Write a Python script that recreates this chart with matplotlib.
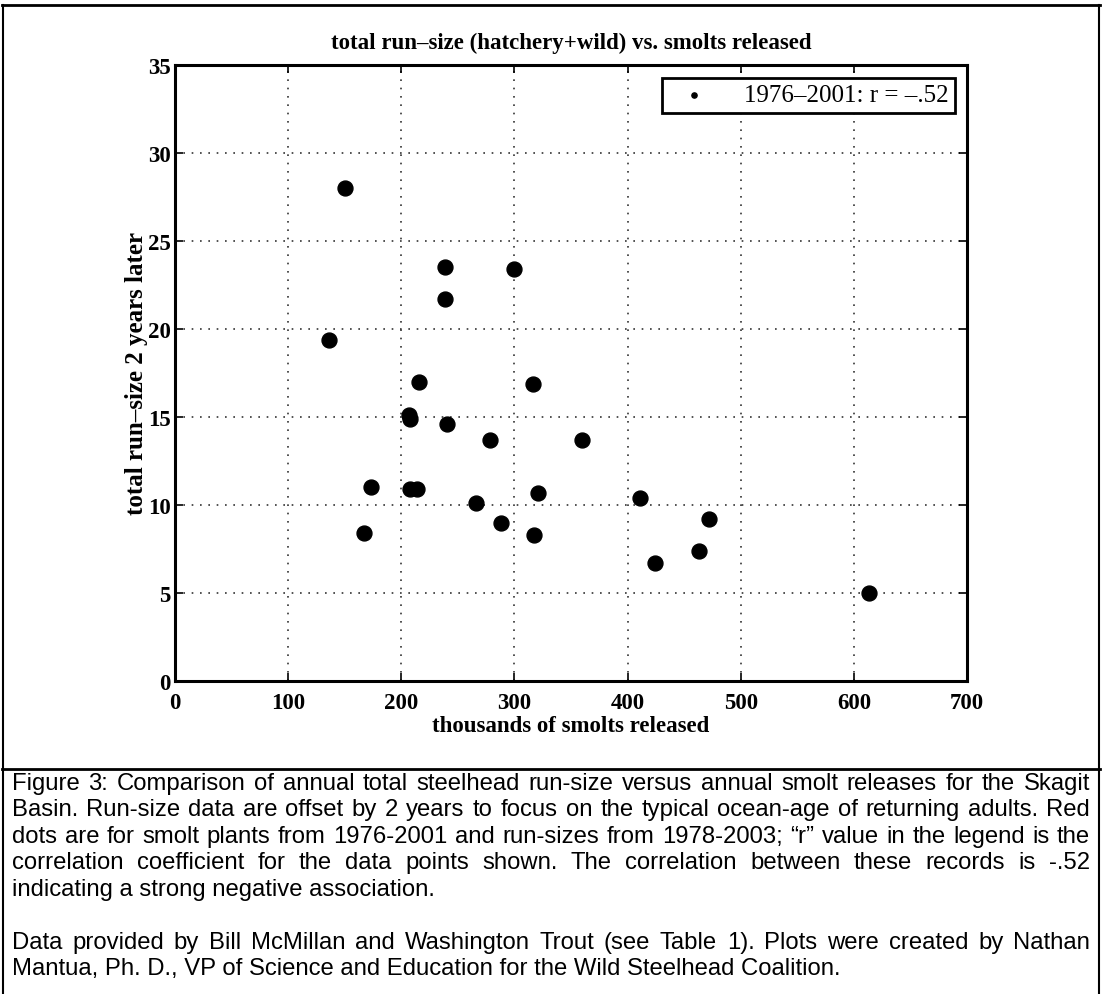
import matplotlib
matplotlib.use('Agg')

import numpy as np
import matplotlib.pyplot as plt
from matplotlib.lines import Line2D

# smolts released (thousands) vs total run-size 2 years later (thousands)
smolts = [150, 136, 239, 239, 300, 216, 316, 207, 208, 240, 278, 360,
          173, 208, 214, 321, 266, 288, 167, 317, 411, 472, 463, 424, 613]
run_size = [28.0, 19.4, 23.5, 21.7, 23.4, 17.0, 16.9, 15.1, 14.9, 14.6, 13.7, 13.7,
            11.0, 10.9, 10.9, 10.7, 10.1, 9.0, 8.4, 8.3, 10.4, 9.2, 7.4, 6.7, 5.0]

x_ticks = [0, 100, 200, 300, 400, 500, 600, 700]
y_ticks = [0, 5, 10, 15, 20, 25, 30, 35]

title = 'total run\u2013size (hatchery+wild) vs. smolts released'
x_label = 'thousands of smolts released'
y_label = 'total run\u2013size 2 years later'
legend_label = '1976\u20132001: r = \u2013.52'

caption_lines = [
    ('Figure 3: Comparison of annual total steelhead run-size versus annual smolt releases for the Skagit', True),
    ('Basin. Run-size data are offset by 2 years to focus on the typical ocean-age of returning adults. Red', True),
    ('dots are for smolt plants from 1976-2001 and run-sizes from 1978-2003; \u201cr\u201d value in the legend is the', True),
    ('correlation coefficient for the data points shown. The correlation between these records is -.52', True),
    ('indicating a strong negative association.', False),
    ('', False),
    ('Data provided by Bill McMillan and Washington Trout (see Table 1). Plots were created by Nathan', True),
    ('Mantua, Ph. D., VP of Science and Education for the Wild Steelhead Coalition.', False),
]

W, H = 1102, 995
fig = plt.figure(figsize=(W / 100, H / 100), dpi=100)
serif = 'Liberation Serif'
sans = 'Liberation Sans'

ax = fig.add_axes([175 / W, 1 - 682 / H, (967 - 175) / W, (682 - 66) / H])
ax.scatter(smolts, run_size, s=115, color='black', zorder=3, label=legend_label)
ax.set_xlim(0, 700)
ax.set_ylim(0, 35)
ax.set_xticks(x_ticks)
ax.set_yticks(y_ticks)
ax.grid(True, linestyle=(0, (1, 4)), color='#333333', linewidth=1.2)
ax.tick_params(direction='in', length=6, width=1.2, top=True, right=True,
               labelsize=16.5, pad=3)
ax.tick_params(axis='x', pad=8)
for lab in ax.get_xticklabels() + ax.get_yticklabels():
    lab.set_fontfamily(serif)
    lab.set_fontweight('bold')
for sp in ax.spines.values():
    sp.set_linewidth(2.2)

ax.set_title(title, fontsize=16.5, fontfamily=serif, fontweight='bold', pad=12)
ax.set_xlabel(x_label, fontsize=16.5, fontfamily=serif, fontweight='bold', labelpad=1)
ax.set_ylabel(y_label, fontsize=18, fontfamily=serif, fontweight='bold', labelpad=0)

leg = ax.legend(loc='upper right', frameon=True, fancybox=False, markerscale=0.35,
                handletextpad=1.0, borderpad=0.25, borderaxespad=0.5, framealpha=1,
                prop={'family': serif, 'size': 18})
leg.get_frame().set_edgecolor('black')
leg.get_frame().set_linewidth(2.0)

# outer frames
def hline(y, x0=2, x1=1100, lw=2.0):
    fig.add_artist(Line2D([x0 / W, x1 / W], [1 - y / H, 1 - y / H], color='black', lw=lw))

def vline(x, y0, y1, lw=1.5):
    fig.add_artist(Line2D([x / W, x / W], [1 - y0 / H, 1 - y1 / H], color='black', lw=lw))

hline(6)
hline(770)
vline(3, 6, 995)
vline(1099, 6, 995)

# justified caption, font size fitted so the longest line just fills the box
renderer = fig.canvas.get_renderer()
x_left, x_right = 12, 1090
fs0 = 15.0
widest = 0
for line, justify in caption_lines:
    if justify:
        t = fig.text(0, 0, line, fontsize=fs0, fontfamily=sans)
        widest = max(widest, t.get_window_extent(renderer).width)
        t.remove()
fs = fs0 * (x_right - x_left) / widest * 0.99

y0, dy = 784, 26.5
for i, (line, justify) in enumerate(caption_lines):
    if not line:
        continue
    y = 1 - (y0 + i * dy) / H
    if not justify:
        fig.text(x_left / W, y, line, fontsize=fs, fontfamily=sans, va='center', ha='left')
        continue
    words = line.split(' ')
    texts = [fig.text(0, y, w, fontsize=fs, fontfamily=sans, va='center', ha='left') for w in words]
    widths = [t.get_window_extent(renderer).width for t in texts]
    gap = (x_right - x_left - sum(widths)) / (len(words) - 1)
    x = x_left
    for t, w in zip(texts, widths):
        t.set_x(x / W)
        x += w + gap

fig.savefig('out.png', dpi=100)
